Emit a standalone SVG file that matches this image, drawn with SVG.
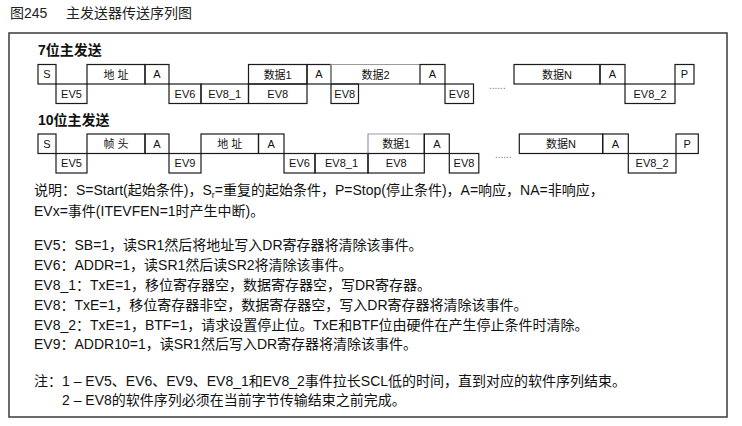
<svg xmlns="http://www.w3.org/2000/svg" width="742" height="426" viewBox="0 0 742 426">
<style>
  .bg{fill:#ffffff}
  .frame{fill:none;stroke:#3a3a3a;stroke-width:1.5}
  .box{fill:none;stroke:#1a1a1a;stroke-width:1.2}
  .grey{stroke:#9a9a9a}
  .lbl{font-family:"Liberation Sans","Noto Sans CJK SC",sans-serif;font-size:11px;fill:#111;text-anchor:middle}
  .ttl{font-family:"Liberation Sans","Noto Sans CJK SC",sans-serif;font-size:14px;font-weight:bold;fill:#111}
  .txt{font-family:"Liberation Sans","Noto Sans CJK SC",sans-serif;font-size:14px;fill:#111}
  .cap{font-family:"Liberation Sans","Noto Sans CJK SC",sans-serif;font-size:14px;fill:#222}
  .dots{font-family:"Liberation Sans",sans-serif;font-size:10px;fill:#777}
</style>
<rect class="bg" x="0" y="0" width="742" height="426"/>
<text class="cap" x="10" y="18">图245</text>
<text class="cap" x="66" y="18">主发送器传送序列图</text>
<rect class="frame" x="9" y="33" width="718" height="384"/>

<text class="ttl" x="38" y="55">7位主发送</text>
<g id="row7">
  <g id="r1-S"><rect class="box" x="38" y="64.5" width="18" height="19.5"/><text class="lbl" x="47" y="78">S</text></g>
  <g id="r1-EV5"><rect class="box" x="56" y="84" width="31" height="19.5"/><text class="lbl" x="71.5" y="97.5">EV5</text></g>
  <g id="r1-addr"><rect class="box" x="87" y="64.5" width="58" height="19.5"/><text class="lbl" x="116" y="78.5">地 址</text></g>
  <g id="r1-A1"><rect class="box" x="145" y="64.5" width="24" height="19.5"/><text class="lbl" x="157" y="78">A</text></g>
  <g id="r1-EV6"><rect class="box" x="169" y="84" width="32" height="19.5"/><text class="lbl" x="185" y="97.5">EV6</text></g>
  <g id="r1-EV8_1"><rect class="box" x="201" y="84" width="47.5" height="19.5"/><text class="lbl" x="224.7" y="97.5">EV8_1</text></g>
  <g id="r1-d1"><rect class="box" x="248.5" y="64.5" width="58.5" height="19.5"/><text class="lbl" x="277.7" y="78.5">数据1</text></g>
  <g id="r1-EV8a"><rect class="box" x="248.5" y="84" width="58.5" height="19.5"/><text class="lbl" x="277.7" y="97.5">EV8</text></g>
  <g id="r1-A2"><rect class="box" x="307" y="64.5" width="24" height="19.5"/><text class="lbl" x="319" y="78">A</text></g>
  <g id="r1-d2"><path class="box grey" d="M331,84 V64.5 H420"/><line class="box" x1="331" y1="84" x2="420" y2="84"/><text class="lbl" x="375.5" y="78.5">数据2</text></g>
  <g id="r1-EV8b"><rect class="box" x="331" y="84" width="27.5" height="19.5"/><text class="lbl" x="344.7" y="97.5">EV8</text></g>
  <g id="r1-A3"><rect class="box" x="420" y="64.5" width="25" height="19.5"/><text class="lbl" x="432.5" y="78">A</text></g>
  <g id="r1-EV8c"><rect class="box" x="445" y="84" width="28.5" height="19.5"/><text class="lbl" x="459.2" y="97.5">EV8</text></g>
  <g id="r1-dots"><text class="dots" x="489" y="89">......</text></g>
  <g id="r1-dN"><rect class="box" x="514" y="64.5" width="86" height="19.5"/><text class="lbl" x="557" y="78.5">数据N</text></g>
  <g id="r1-A4"><rect class="box" x="600" y="64.5" width="25" height="19.5"/><text class="lbl" x="612.5" y="78">A</text></g>
  <g id="r1-EV8_2"><rect class="box" x="625" y="84" width="50" height="19.5"/><text class="lbl" x="650" y="97.5">EV8_2</text></g>
  <g id="r1-P"><rect class="box" x="675" y="64.5" width="19" height="19.5"/><text class="lbl" x="684.5" y="78">P</text></g>
</g>

<text class="ttl" x="38" y="125">10位主发送</text>
<g id="row10">
  <g id="r2-S"><rect class="box" x="38" y="134" width="18" height="19.5"/><text class="lbl" x="47" y="147.5">S</text></g>
  <g id="r2-EV5"><rect class="box" x="56" y="153.5" width="31" height="19.5"/><text class="lbl" x="71.5" y="167">EV5</text></g>
  <g id="r2-hdr"><rect class="box" x="87" y="134" width="58" height="19.5"/><text class="lbl" x="116" y="148">帧 头</text></g>
  <g id="r2-A1"><rect class="box" x="145" y="134" width="24" height="19.5"/><text class="lbl" x="157" y="147.5">A</text></g>
  <g id="r2-EV9"><rect class="box" x="169" y="153.5" width="32" height="19.5"/><text class="lbl" x="185" y="167">EV9</text></g>
  <g id="r2-addr"><rect class="box" x="201" y="134" width="57.5" height="19.5"/><text class="lbl" x="229.7" y="148">地 址</text></g>
  <g id="r2-A2"><rect class="box" x="258.5" y="134" width="25.5" height="19.5"/><text class="lbl" x="271.2" y="147.5">A</text></g>
  <g id="r2-EV6"><rect class="box" x="284" y="153.5" width="31" height="19.5"/><text class="lbl" x="299.5" y="167">EV6</text></g>
  <g id="r2-EV8_1"><rect class="box" x="315" y="153.5" width="53" height="19.5"/><text class="lbl" x="341.5" y="167">EV8_1</text></g>
  <g id="r2-d1"><path class="box grey" d="M368,153.5 V134 H424.3"/><line class="box" x1="424.3" y1="134" x2="424.3" y2="153.5"/><text class="lbl" x="396.2" y="148">数据1</text></g>
  <g id="r2-EV8a"><rect class="box" x="368" y="153.5" width="56.3" height="19.5"/><text class="lbl" x="396.2" y="167">EV8</text></g>
  <g id="r2-A3"><rect class="box" x="424.3" y="134" width="25" height="19.5"/><text class="lbl" x="436.8" y="147.5">A</text></g>
  <g id="r2-EV8b"><rect class="box" x="449.3" y="153.5" width="29.5" height="19.5"/><text class="lbl" x="464" y="167">EV8</text></g>
  <g id="r2-dots"><text class="dots" x="495" y="158">......</text></g>
  <g id="r2-dN"><rect class="box" x="519.3" y="134" width="83.4" height="19.5"/><text class="lbl" x="561" y="148">数据N</text></g>
  <g id="r2-A4"><rect class="box" x="602.7" y="134" width="25.6" height="19.5"/><text class="lbl" x="615.5" y="147.5">A</text></g>
  <g id="r2-EV8_2"><rect class="box" x="628.3" y="153.5" width="47.7" height="19.5"/><text class="lbl" x="652.1" y="167">EV8_2</text></g>
  <g id="r2-P"><rect class="box" x="676" y="134" width="22.3" height="19.5"/><text class="lbl" x="687.1" y="147.5">P</text></g>
</g>
<g id="connectors"></g>

<g id="notes">
  <text class="txt" x="34" y="195">说明：S=Start(起始条件)，S<tspan font-size="9" dy="3">r</tspan><tspan dy="-3">=重复的起始条件，P=Stop(停止条件)，A=响应，NA=非响应，</tspan></text>
  <text class="txt" x="34" y="216">EVx=事件(ITEVFEN=1时产生中断)。</text>
  <text class="txt" x="34" y="250">EV5：SB=1，读SR1然后将地址写入DR寄存器将清除该事件。</text>
  <text class="txt" x="34" y="270">EV6：ADDR=1，读SR1然后读SR2将清除该事件。</text>
  <text class="txt" x="34" y="290">EV8_1：TxE=1，移位寄存器空，数据寄存器空，写DR寄存器。</text>
  <text class="txt" x="34" y="310">EV8：TxE=1，移位寄存器非空，数据寄存器空，写入DR寄存器将清除该事件。</text>
  <text class="txt" x="34" y="330">EV8_2：TxE=1，BTF=1，请求设置停止位。TxE和BTF位由硬件在产生停止条件时清除。</text>
  <text class="txt" x="34" y="349">EV9：ADDR10=1，读SR1然后写入DR寄存器将清除该事件。</text>
  <text class="txt" x="34" y="386">注：1 – EV5、EV6、EV9、EV8_1和EV8_2事件拉长SCL低的时间，直到对应的软件序列结束。</text>
  <text class="txt" x="62" y="405">2 – EV8的软件序列必须在当前字节传输结束之前完成。</text>
</g>
</svg>
